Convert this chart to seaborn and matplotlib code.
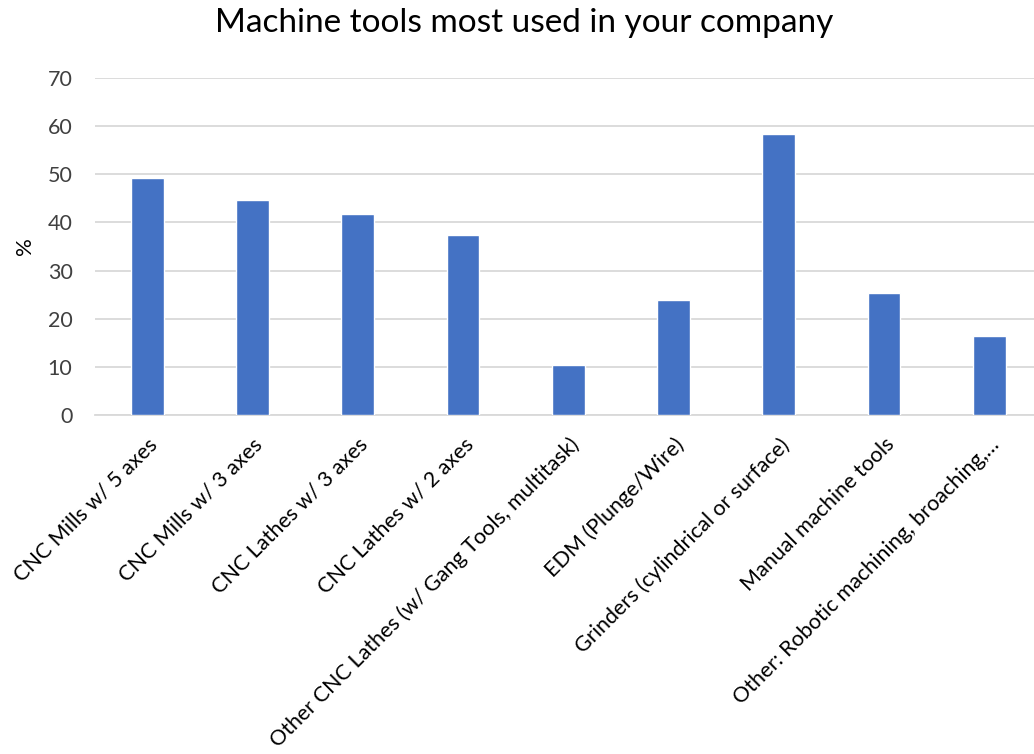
import matplotlib
matplotlib.use("Agg")
import matplotlib.pyplot as plt
import seaborn as sns
import pandas as pd

categories = [
    "CNC Mills w/ 5 axes",
    "CNC Mills w/ 3 axes",
    "CNC Lathes w/ 3 axes",
    "CNC Lathes w/ 2 axes",
    "Other CNC Lathes (w/ Gang Tools, multitask)",
    "EDM (Plunge/Wire)",
    "Grinders (cylindrical or surface)",
    "Manual machine tools",
    "Other: Robotic machining, broaching,\u2026",
]
percent = [49.2, 44.7, 41.7, 37.3, 10.3, 23.9, 58.3, 25.3, 16.5]
y_ticks = [0, 10, 20, 30, 40, 50, 60, 70]

df = pd.DataFrame({"tool": categories, "pct": percent})

sns.set_theme(style="white")
plt.rcParams["font.family"] = ["Lato", "DejaVu Sans"]

fig = plt.figure(figsize=(10.34, 7.54), dpi=100)
# plot area runs slightly past the right edge of the canvas
ax = fig.add_axes([0.0916, 0.4496, 0.916, 0.447])

sns.barplot(data=df, x="tool", y="pct", color="#4472C4", width=0.31,
            saturation=1, ax=ax, zorder=3)

ax.set_ylim(0, 70)
ax.set_yticks(y_ticks)
ax.set_xlim(-0.5, len(categories) - 0.5)
ax.grid(axis="y", color="#D9D9D9", linewidth=1.3, zorder=0)
for side in ["top", "right", "left"]:
    ax.spines[side].set_visible(False)
ax.spines["bottom"].set_color("#D9D9D9")
ax.spines["bottom"].set_linewidth(1.3)

ax.tick_params(axis="y", length=0, labelsize=15.5, labelcolor="#404040", pad=16)
ax.tick_params(axis="x", length=0, labelsize=15.5, labelcolor="#000000", pad=14)
ax.set_xticks(range(len(categories)))
ax.set_xticklabels(categories, rotation=45, ha="right", va="top",
                   rotation_mode="anchor")

ax.set_xlabel("")
ax.set_ylabel("%", fontsize=16, color="#000000", labelpad=9)

fig.suptitle("Machine tools most used in your company", fontsize=24,
             color="#000000", x=0.507, y=0.99)

fig.savefig("out.png", dpi=100, facecolor="white")
